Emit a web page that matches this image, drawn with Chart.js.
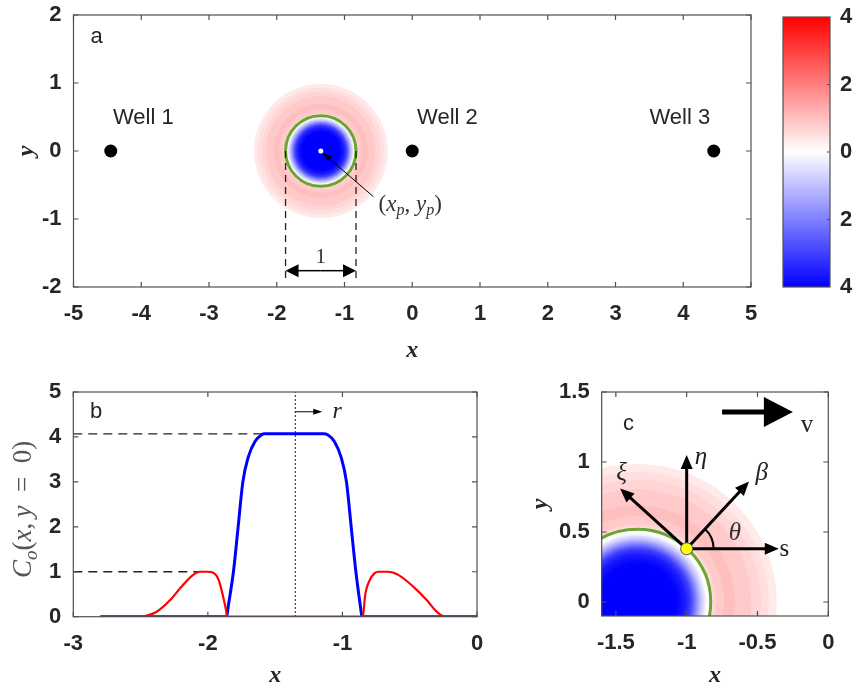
<!DOCTYPE html>
<html><head><meta charset="utf-8">
<script src="https://cdn.jsdelivr.net/npm/chart.js@4.4.0/dist/chart.umd.min.js"></script>
<style>
html,body{margin:0;padding:0;background:#fff;}
#wrap{position:relative;width:855px;height:690px;overflow:hidden;background:#fff;}
canvas{position:absolute;}
</style></head><body>
<div id="wrap">
<canvas id="pa" width="770" height="365" style="left:0;top:0"></canvas>
<canvas id="pcb" width="85" height="365" style="left:770px;top:0"></canvas>
<canvas id="pb" width="500" height="325" style="left:0;top:365px"></canvas>
<canvas id="pc" width="355" height="325" style="left:500px;top:365px"></canvas>
</div>
<script>
// ---------------- data ----------------
const wellNames = ['Well 1', 'Well 2', 'Well 3'];
const wellX = [-4.45, 0, 4.45];
const wellY = [0, 0, 0];
const wellLabelX = [-3.97, 0.52, 3.95];
const wellLabelY = [0.48, 0.48, 0.48];
const plumeX = -1.35, plumeY = 0;
const interfaceR = 0.52;
const dimX = [-1.87, -0.83];

const blueX = [-2.8, -1.86, -1.85, -1.81, -1.775, -1.74, -1.70, -1.65, -1.60, -1.58, -1.14, -1.11, -1.06, -1.01, -0.97, -0.935, -0.90, -0.865, -0.855, 0];
const blueC = [0, 0, 0.2, 1.0, 2.0, 3.0, 3.55, 3.9, 4.05, 4.07, 4.07, 4.05, 3.9, 3.55, 3.0, 2.0, 1.0, 0.2, 0, 0];
const redX = [-2.48, -2.38, -2.28, -2.195, -2.11, -2.06, -2.0, -1.96, -1.92, -1.886, -1.865, -1.855, -0.85, -0.84, -0.833, -0.796, -0.76, -0.734, -0.66, -0.585, -0.474, -0.374, -0.312, -0.27, -0.24];
const redC = [0, 0.11, 0.37, 0.67, 0.93, 1.0, 1.0, 0.98, 0.82, 0.44, 0.15, 0, 0, 0.2, 0.44, 0.82, 0.97, 1.0, 1.0, 0.93, 0.67, 0.37, 0.15, 0.04, 0];

const xTicksA = [-5, -4, -3, -2, -1, 0, 1, 2, 3, 4, 5];
const yTicksA = [-2, -1, 0, 1, 2];
const xTicksB = [-3, -2, -1, 0];
const yTicksB = [0, 1, 2, 3, 4, 5];
const xTicksC = [-1.5, -1, -0.5, 0];
const yTicksC = [0, 0.5, 1, 1.5];
const cbarTicks = [-4, -2, 0, 2, 4];
const cbarLabels = ['4', '2', '0', '2', '4'];

const frontPoint = {x: -1.0, y: 0.38};
const vecNames = ['s', 'η', 'β', 'ξ'];
const vecEndX = [-0.35, -1.0, -0.56, -1.47];
const vecEndY = [0.38, 1.05, 0.86, 0.81];
const vecLabelX = [-0.31, -0.90, -0.47, -1.46];
const vecLabelY = [0.376, 1.035, 0.918, 0.918];
const velStartX = -0.75, velEndX = -0.25, velY = 1.357;

// ---------------- helpers ----------------
const SANS = '"Liberation Sans", Arial, Helvetica, sans-serif';
const SERIF = '"Liberation Serif", "Times New Roman", serif';
const TXT = '#262626';
const AX = '#505050';
const tickFont = {family: SANS, size: 22, weight: 'bold'};
const titleFont = {family: SERIF, size: 24, weight: 'bold', style: 'italic'};

function interp(xs, ys, x) {
  if (x <= xs[0]) return ys[0];
  for (let i = 1; i < xs.length; i++) {
    if (x <= xs[i]) { const d = xs[i] - xs[i-1]; const t = d ? (x - xs[i-1]) / d : 1; return ys[i-1] + t * (ys[i] - ys[i-1]); }
  }
  return ys[ys.length - 1];
}
function fieldAt(r) {
  const b = interp(blueX, blueC, plumeX + r);
  if (b > 0.001) return -b;
  const v = interp(redX, redC, plumeX + r);
  return v < 1/3 ? 0 : Math.floor(v * 6 + 1e-6) / 6;
}
function colorOf(v) {
  const t = Math.min(1, Math.abs(v) / 4);
  const c = Math.round(255 * (1 - t));
  return v >= 0 ? `rgb(255,${c},${c})` : `rgb(${c},${c},255)`;
}
function txt(ctx, s, x, y, font, color, align, base) {
  ctx.save(); ctx.font = font; ctx.fillStyle = color; ctx.textAlign = align || 'center'; ctx.textBaseline = base || 'middle';
  ctx.fillText(s, x, y); ctx.restore();
}
function rich(ctx, parts, x, y, size, color) {
  ctx.save(); ctx.fillStyle = color; ctx.textBaseline = 'middle'; ctx.textAlign = 'left';
  const fnt = p => `${p.it ? 'italic ' : ''}${p.sub ? Math.round(size * 0.7) : size}px ${SERIF}`;
  let total = 0; const ws = [];
  parts.forEach(p => { ctx.font = fnt(p); const w = ctx.measureText(p.t).width; ws.push(w); total += w; });
  let cx = x - total / 2;
  parts.forEach((p, i) => { ctx.font = fnt(p); ctx.fillText(p.t, cx, y + (p.sub ? size * 0.28 : 0)); cx += ws[i]; });
  ctx.restore();
}
function arrow(ctx, x1, y1, x2, y2, lw, hl, hw, color) {
  const a = Math.atan2(y2 - y1, x2 - x1), c = Math.cos(a), s = Math.sin(a);
  ctx.save(); ctx.strokeStyle = color; ctx.fillStyle = color; ctx.lineWidth = lw; ctx.setLineDash([]);
  ctx.beginPath(); ctx.moveTo(x1, y1); ctx.lineTo(x2 - hl * 0.7 * c, y2 - hl * 0.7 * s); ctx.stroke();
  ctx.beginPath(); ctx.moveTo(x2, y2);
  ctx.lineTo(x2 - hl * c + hw / 2 * s, y2 - hl * s - hw / 2 * c);
  ctx.lineTo(x2 - hl * c - hw / 2 * s, y2 - hl * s + hw / 2 * c);
  ctx.closePath(); ctx.fill(); ctx.restore();
}
function setTicks(arr) { return scale => { scale.ticks = arr.map(v => ({value: v})); }; }
function line(ctx, x1, y1, x2, y2, lw, color, dash) {
  ctx.save(); ctx.strokeStyle = color; ctx.lineWidth = lw; ctx.setLineDash(dash || []);
  ctx.beginPath(); ctx.moveTo(x1, y1); ctx.lineTo(x2, y2); ctx.stroke(); ctx.restore();
}

// ---------------- plugins ----------------
const boxPlugin = {
  id: 'box',
  afterDraw(chart, args, opts) {
    const {ctx, chartArea: a, scales} = chart;
    ctx.save(); ctx.strokeStyle = AX; ctx.lineWidth = 1.2; ctx.setLineDash([]);
    ctx.beginPath();
    const L = opts.len || 5;
    if (opts.mode === 'cbar') {
      const ys = scales.y;
      ys.ticks.forEach(t => { const p = ys.getPixelForValue(t.value); if (p > a.top + 2 && p < a.bottom - 2) { ctx.moveTo(a.right, p); ctx.lineTo(a.right - 3, p); } });
    } else {
      const xs = scales.x, ys = scales.y;
      xs.ticks.forEach(t => { const p = xs.getPixelForValue(t.value); ctx.moveTo(p, a.bottom); ctx.lineTo(p, a.bottom - L); ctx.moveTo(p, a.top); ctx.lineTo(p, a.top + L); });
      ys.ticks.forEach(t => { const p = ys.getPixelForValue(t.value); ctx.moveTo(a.left, p); ctx.lineTo(a.left + L, p); ctx.moveTo(a.right, p); ctx.lineTo(a.right - L, p); });
    }
    ctx.stroke();
    ctx.strokeRect(a.left, a.top, a.right - a.left, a.bottom - a.top);
    ctx.restore();
  }
};

const fieldPlugin = {
  id: 'field',
  beforeDatasetsDraw(chart) {
    const {ctx, chartArea: a, scales: {x, y}} = chart;
    ctx.save();
    ctx.beginPath(); ctx.rect(a.left, a.top, a.right - a.left, a.bottom - a.top); ctx.clip();
    const cx = x.getPixelForValue(plumeX), cy = y.getPixelForValue(plumeY);
    const sx = Math.abs(x.getPixelForValue(plumeX + 1) - cx), sy = Math.abs(y.getPixelForValue(plumeY + 1) - cy);
    const rMax = redX[redX.length - 1] - plumeX;
    for (let r = rMax; r > 0.0005; r -= 0.004) {
      ctx.fillStyle = colorOf(fieldAt(r));
      ctx.beginPath(); ctx.ellipse(cx, cy, r * sx, r * sy, 0, 0, Math.PI * 2); ctx.fill();
    }
    ctx.strokeStyle = '#6aa532'; ctx.lineWidth = 3;
    ctx.beginPath(); ctx.ellipse(cx, cy, interfaceR * sx, interfaceR * sy, 0, 0, Math.PI * 2); ctx.stroke();
    ctx.restore();
  }
};

const annotA = {
  id: 'annotA',
  afterDatasetsDraw(chart) {
    const {ctx, scales: {x, y}} = chart;
    const X = v => x.getPixelForValue(v), Y = v => y.getPixelForValue(v);
    txt(ctx, 'a', X(-4.66), Y(1.68), `22px ${SANS}`, TXT);
    wellNames.forEach((n, i) => txt(ctx, n, X(wellLabelX[i]), Y(wellLabelY[i]), `22px ${SANS}`, TXT));
    dimX.forEach(d => line(ctx, X(d), Y(plumeY), X(d), Y(-1.92), 1.3, '#222', [7, 5]));
    arrow(ctx, (X(dimX[0]) + X(dimX[1])) / 2, Y(-1.76), X(dimX[0]), Y(-1.76), 1.5, 13, 13, '#000');
    arrow(ctx, (X(dimX[0]) + X(dimX[1])) / 2, Y(-1.76), X(dimX[1]), Y(-1.76), 1.5, 13, 13, '#000');
    txt(ctx, '1', X(plumeX), Y(-1.56), `21px ${SERIF}`, '#333');
    arrow(ctx, X(-0.575), Y(-0.67), X(plumeX + 0.03), Y(plumeY - 0.03), 1, 9, 6, '#000');
    rich(ctx, [{t: '('}, {t: 'x', it: 1}, {t: 'p', it: 1, sub: 1}, {t: ', '}, {t: 'y', it: 1}, {t: 'p', it: 1, sub: 1}, {t: ')'}], X(-0.03), Y(-0.79), 23, '#333');
  }
};

const annotB = {
  id: 'annotB',
  beforeDatasetsDraw(chart) {
    const {ctx, chartArea: a, scales: {x, y}} = chart;
    const X = v => x.getPixelForValue(v), Y = v => y.getPixelForValue(v);
    const bMax = Math.max(...blueC), rMax = Math.max(...redC);
    const bx = blueX[blueC.indexOf(bMax)], rx = redX[redC.indexOf(rMax)];
    line(ctx, a.left, Y(bMax), X(bx), Y(bMax), 1.3, '#222', [9, 6]);
    line(ctx, a.left, Y(rMax), X(rx), Y(rMax), 1.3, '#222', [9, 6]);
    line(ctx, X(plumeX), a.bottom, X(plumeX), a.top, 1.3, '#111', [1.5, 2.5]);
  },
  afterDatasetsDraw(chart) {
    const {ctx, chartArea: a, scales: {x, y}} = chart;
    const X = v => x.getPixelForValue(v), Y = v => y.getPixelForValue(v);
    txt(ctx, 'b', X(-2.83), Y(4.56), `22px ${SANS}`, TXT);
    arrow(ctx, X(plumeX), Y(4.56), X(plumeX + 0.2), Y(4.56), 1, 9, 6, '#000');
    txt(ctx, 'r', X(-1.04), Y(4.56), `italic 24px ${SERIF}`, '#222');
    ctx.save(); ctx.translate(24, (a.top + a.bottom) / 2 + 5); ctx.rotate(-Math.PI / 2);
    rich(ctx, [{t: 'C', it: 1}, {t: 'o', it: 1, sub: 1}, {t: '('}, {t: 'x', it: 1}, {t: ',\u2009'}, {t: 'y', it: 1}, {t: '\u2002=\u2002'}, {t: '0)'}], 0, 0, 27, '#555');
    ctx.restore();
  }
};

const annotC = {
  id: 'annotC',
  beforeDatasetsDraw(chart) {
    const {ctx, scales: {x, y}} = chart;
    const X = v => x.getPixelForValue(v), Y = v => y.getPixelForValue(v);
    const px = X(frontPoint.x), py = Y(frontPoint.y);
    vecEndX.forEach((ex, i) => arrow(ctx, px, py, X(ex), Y(vecEndY[i]), 3, 14, 12, '#000'));
    const ang = Math.atan2(Y(vecEndY[2]) - py, X(vecEndX[2]) - px);
    ctx.save(); ctx.strokeStyle = '#000'; ctx.lineWidth = 2; ctx.beginPath();
    ctx.arc(px, py, 0.19 * Math.abs(X(1) - X(0)), ang, 0); ctx.stroke(); ctx.restore();
  },
  afterDatasetsDraw(chart) {
    const {ctx, scales: {x, y}} = chart;
    const X = v => x.getPixelForValue(v), Y = v => y.getPixelForValue(v);
    txt(ctx, 'c', X(-1.41), Y(1.274), `22px ${SANS}`, TXT);
    vecNames.forEach((n, i) => txt(ctx, n, X(vecLabelX[i]), Y(vecLabelY[i]), `${n === 's' ? '' : 'italic '}25px ${SERIF}`, '#222'));
    txt(ctx, 'θ', X(-0.66), Y(0.49), `italic 25px ${SERIF}`, '#333');
    arrow(ctx, X(velStartX), Y(velY), X(velEndX), Y(velY), 5, 29, 30, '#000');
    txt(ctx, 'v', X(-0.15), Y(1.262), `25px ${SERIF}`, '#222');
  }
};

function baseScales(xmin, xmax, xt, ymin, ymax, yt, yW, xH, yTitle, yTitlePad, xTitlePad) {
  return {
    x: {type: 'linear', min: xmin, max: xmax, afterBuildTicks: setTicks(xt),
      ticks: {font: tickFont, color: TXT, padding: 0, callback: v => String(v)},
      grid: {display: false, drawTicks: true, tickLength: 14}, border: {display: false},
      title: {display: true, text: 'x', font: titleFont, color: TXT, padding: {top: 0, bottom: xTitlePad}},
      afterFit: s => { s.height = xH; }},
    y: {type: 'linear', min: ymin, max: ymax, afterBuildTicks: setTicks(yt),
      ticks: {font: tickFont, color: TXT, padding: 0, callback: v => String(v)},
      grid: {display: false, drawTicks: true, tickLength: 12}, border: {display: false},
      title: {display: !!yTitle, text: yTitle || '', font: titleFont, color: TXT, padding: {top: yTitlePad, bottom: 0}},
      afterFit: s => { s.width = yW; }}
  };
}
const common = {animation: false, responsive: false, events: [],
  plugins: {legend: {display: false}, tooltip: {enabled: false}}};

// ---------------- panel a ----------------
new Chart(document.getElementById('pa'), {
  type: 'scatter',
  data: {datasets: [
    {data: wellX.map((v, i) => ({x: v, y: wellY[i]})), pointRadius: 6.5, backgroundColor: '#000', borderWidth: 0},
    {data: [{x: plumeX, y: plumeY}], pointRadius: 2.5, backgroundColor: '#fff', borderWidth: 0}
  ]},
  options: Object.assign({}, common, {
    layout: {padding: {top: 15, right: 19, left: 0, bottom: 0}},
    scales: baseScales(-5, 5, xTicksA, -2, 2, yTicksA, 73.5, 78, 'y', 12, 0)
  }),
  plugins: [fieldPlugin, annotA, boxPlugin]
});

// ---------------- colorbar ----------------
new Chart(document.getElementById('pcb'), {
  type: 'bar',
  data: {labels: [''], datasets: [{data: [[cbarTicks[0], cbarTicks[cbarTicks.length - 1]]], borderWidth: 0,
    barPercentage: 1, categoryPercentage: 1,
    backgroundColor: c => {
      const ch = c.chart, a = ch.chartArea; if (!a) return '#fff';
      const g = ch.ctx.createLinearGradient(0, a.bottom, 0, a.top);
      g.addColorStop(0, '#0000ff'); g.addColorStop(0.5, '#ffffff'); g.addColorStop(1, '#ff0000');
      return g;
    }}]},
  options: Object.assign({}, common, {
    layout: {padding: {top: 17, left: 13, right: 0, bottom: 78}},
    plugins: {legend: {display: false}, tooltip: {enabled: false}, box: {mode: 'cbar'}},
    scales: {
      x: {display: false},
      y: {position: 'right', min: cbarTicks[0], max: cbarTicks[cbarTicks.length - 1], afterBuildTicks: setTicks(cbarTicks),
        ticks: {font: tickFont, color: TXT, padding: 0, callback: (v, i) => cbarLabels[i]},
        grid: {display: false, drawTicks: true, tickLength: 10}, border: {display: false},
        afterFit: s => { s.width = 25; }}
    }
  }),
  plugins: [boxPlugin]
});

// ---------------- panel b ----------------
new Chart(document.getElementById('pb'), {
  type: 'scatter',
  data: {datasets: [
    {data: redX.map((v, i) => ({x: v, y: redC[i]})), showLine: true, borderColor: '#ff0000', borderWidth: 2.2, pointRadius: 0, cubicInterpolationMode: 'monotone'},
    {data: blueX.map((v, i) => ({x: v, y: blueC[i]})), showLine: true, borderColor: '#0000ff', borderWidth: 3, pointRadius: 0, cubicInterpolationMode: 'monotone'}
  ]},
  options: Object.assign({}, common, {
    layout: {padding: {top: 27, right: 23, left: 0, bottom: 0}},
    scales: baseScales(-3, 0, xTicksB, 0, 5, yTicksB, 73.3, 73.3, null, 0, 0)
  }),
  plugins: [annotB, boxPlugin]
});

// ---------------- panel c ----------------
new Chart(document.getElementById('pc'), {
  type: 'scatter',
  data: {datasets: [
    {data: [frontPoint], pointRadius: 6, backgroundColor: '#ffff00', borderColor: '#555', borderWidth: 1}
  ]},
  options: Object.assign({}, common, {
    layout: {padding: {top: 27, right: 26.7, left: 0, bottom: 0}},
    scales: baseScales(-1.6, 0, xTicksC, -0.1, 1.5, yTicksC, 101.7, 74, 'y', 26, 0)
  }),
  plugins: [fieldPlugin, annotC, boxPlugin]
});
</script>
</body></html>
